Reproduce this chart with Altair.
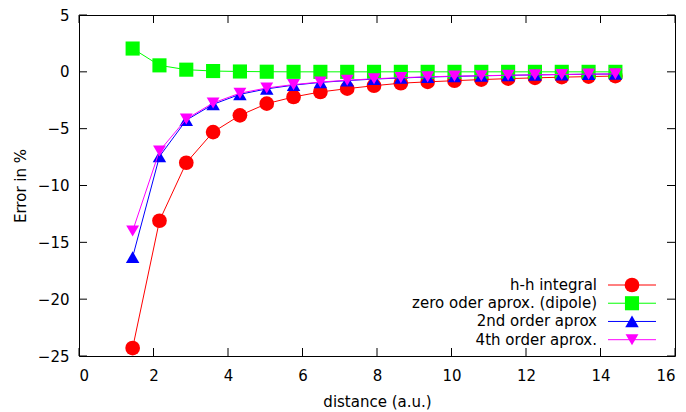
import altair as alt
import pandas as pd

# Inter-atomic distance (a.u.)
distance = [1.44, 2.16, 2.88, 3.60, 4.32, 5.04, 5.76, 6.48, 7.20, 7.92,
            8.64, 9.36, 10.08, 10.80, 11.52, 12.24, 12.96, 13.68, 14.40]

# Relative error (%) of each approximation
hh_integral = [-24.3, -13.1, -8.0, -5.3, -3.83, -2.8, -2.21, -1.77, -1.48, -1.22,
               -1.0, -0.88, -0.78, -0.68, -0.6, -0.53, -0.47, -0.42, -0.37]
zero_order = [2.05, 0.57, 0.19, 0.07, 0.03, 0.01, 0.0, 0.0, 0.0, 0.0,
              0.0, 0.0, 0.0, 0.0, 0.0, 0.0, 0.0, 0.0, 0.0]
second_order = [-16.3, -7.45, -4.25, -2.86, -1.98, -1.5, -1.17, -0.93, -0.77, -0.64,
                -0.54, -0.46, -0.4, -0.35, -0.31, -0.27, -0.24, -0.21, -0.19]
fourth_order = [-14.0, -6.96, -4.15, -2.74, -1.88, -1.42, -1.12, -0.9, -0.74, -0.61,
                -0.51, -0.44, -0.38, -0.34, -0.3, -0.26, -0.23, -0.2, -0.18]

series_names = ["h-h integral", "zero oder aprox. (dipole)",
                "2nd order aprox", "4th order aprox."]
series_values = [hh_integral, zero_order, second_order, fourth_order]
series_colors = ["#ff0000", "#00ff00", "#0000ff", "#ff00ff"]
series_shapes = ["circle", "square", "triangle-up", "triangle-down"]
series_sizes = [216, 165, 175, 175]

x_ticks = [0, 2, 4, 6, 8, 10, 12, 14, 16]
y_ticks = [-25, -20, -15, -10, -5, 0, 5]

W, H = 596, 341
FONT = "DejaVu Sans"
TICK_LEN = 8

rows = []
for name, vals in zip(series_names, series_values):
    for d, v in zip(distance, vals):
        rows.append({"series": name, "distance": d, "error": v})
df = pd.DataFrame(rows)

x_scale = alt.Scale(domain=[0, 16], nice=False)
y_scale = alt.Scale(domain=[-25, 5], nice=False)
color_scale = alt.Scale(domain=series_names, range=series_colors)
shape_scale = alt.Scale(domain=series_names, range=series_shapes)
size_scale = alt.Scale(domain=series_names, range=series_sizes)

x_axis = alt.Axis(values=x_ticks, ticks=False, domain=False, grid=False,
                  labelFont=FONT, labelFontSize=15, labelColor="#000",
                  labelPadding=12, title="distance (a.u.)", titleFont=FONT,
                  titleFontSize=15, titleFontWeight="normal", titleColor="#000",
                  titlePadding=11)
y_axis = alt.Axis(values=y_ticks, ticks=False, domain=False, grid=False,
                  labelFont=FONT, labelFontSize=15, labelColor="#000",
                  labelPadding=10, title="Error in %", titleFont=FONT,
                  titleFontSize=15, titleFontWeight="normal", titleColor="#000",
                  titlePadding=9)

base = alt.Chart(df).encode(
    x=alt.X("distance:Q", scale=x_scale, axis=x_axis),
    y=alt.Y("error:Q", scale=y_scale, axis=y_axis),
    color=alt.Color("series:N", scale=color_scale, legend=None),
)

# each series: its line, then its markers, drawn in order
series_layers = []
for name in series_names:
    sub = base.transform_filter(alt.datum.series == name)
    series_layers.append(sub.mark_line(strokeWidth=1, clip=True))
    series_layers.append(
        sub.mark_point(filled=True, opacity=1, strokeWidth=0).encode(
            shape=alt.Shape("series:N", scale=shape_scale, legend=None),
            size=alt.Size("series:N", scale=size_scale, legend=None),
        )
    )

# inward ticks on all four sides of the frame
xt = pd.DataFrame({"t": x_ticks})
yt = pd.DataFrame({"t": y_ticks})
tick_style = dict(color="#000", strokeWidth=1)
ticks = [
    alt.Chart(xt).mark_rule(**tick_style).encode(
        x=alt.X("t:Q", scale=x_scale), y=alt.value(H), y2=alt.value(H - TICK_LEN)),
    alt.Chart(xt).mark_rule(**tick_style).encode(
        x=alt.X("t:Q", scale=x_scale), y=alt.value(0), y2=alt.value(TICK_LEN)),
    alt.Chart(yt).mark_rule(**tick_style).encode(
        y=alt.Y("t:Q", scale=y_scale), x=alt.value(0), x2=alt.value(TICK_LEN)),
    alt.Chart(yt).mark_rule(**tick_style).encode(
        y=alt.Y("t:Q", scale=y_scale), x=alt.value(W - TICK_LEN), x2=alt.value(W)),
]

plot = alt.layer(*ticks, *series_layers)

# key box in the lower right corner: label, sample line, marker
key_df = pd.DataFrame({"series": series_names, "row": list(range(len(series_names)))})
key_y = alt.Y("row:Q", scale=alt.Scale(domain=[0, 3], range=[270, 324.7]), axis=None)
key_base = alt.Chart(key_df).encode(
    y=key_y, color=alt.Color("series:N", scale=color_scale, legend=None))
key = alt.layer(
    key_base.mark_rule(strokeWidth=1).encode(x=alt.value(529), x2=alt.value(577)),
    key_base.mark_point(filled=True, opacity=1, strokeWidth=0).encode(
        x=alt.value(553),
        shape=alt.Shape("series:N", scale=shape_scale, legend=None),
        size=alt.Size("series:N", scale=size_scale, legend=None)),
    alt.Chart(key_df).mark_text(align="right", baseline="middle", font=FONT,
                                fontSize=15, color="#000").encode(
        y=key_y, x=alt.value(518), text="series:N"),
)

chart = alt.layer(plot, key).resolve_scale(y="independent").properties(
    width=W, height=H,
    autosize=alt.AutoSizeParams(type="none"),
    padding={"left": 79, "top": 15, "right": 11, "bottom": 56},
    background="#ffffff",
).configure_view(stroke="#000", strokeWidth=1)

chart.save("out.html", embed_options={"renderer": "svg", "actions": False})
